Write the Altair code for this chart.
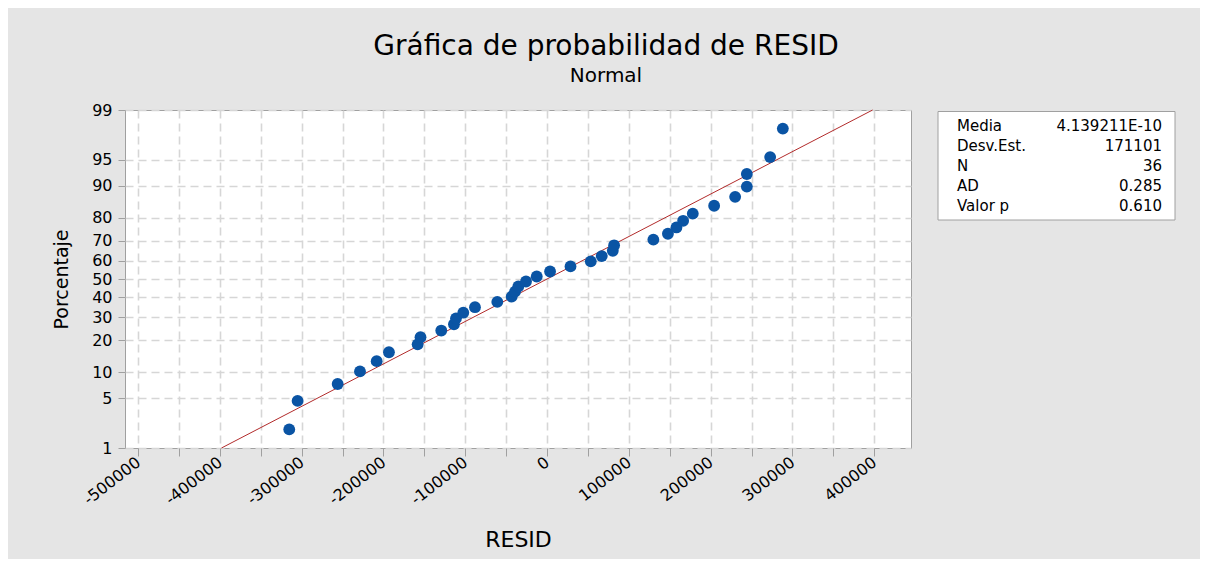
import statistics
import altair as alt
import pandas as pd

# ---- data ----
resid = [-315200, -305000, -256000, -228700, -208300, -193300, -158200, -154700,
         -129300, -113800, -111300, -102400, -88100, -60800, -43200, -39100,
         -35100, -25700, -12600, 3700, 28700, 53500, 66900, 80400, 82000,
         130000, 147800, 158200, 166400, 178200, 204300, 230000, 244300,
         244300, 272800, 288300]
percent = [1.92, 4.67, 7.42, 10.16, 12.91, 15.66, 18.41, 21.15, 23.90, 26.65,
           29.40, 32.14, 34.89, 37.64, 40.38, 43.13, 45.88, 48.63, 51.37,
           54.12, 56.87, 59.62, 62.36, 65.11, 67.86, 70.60, 73.35, 76.10,
           78.85, 81.59, 84.34, 87.09, 89.84, 92.58, 95.33, 98.08]
y_ticks_pct = [1, 5, 10, 20, 30, 40, 50, 60, 70, 80, 90, 95, 99]
x_ticks = list(range(-500000, 400001, 50000))

media = 4.139211e-10
desv = 171101
stat_labels = ["Media", "Desv.Est.", "N", "AD", "Valor p"]
stat_values = ["4.139211E-10", "171101", "36", "0.285", "0.610"]

# ---- probability (normal) scale ----
nd = statistics.NormalDist()
z_pts = [nd.inv_cdf(p / 100) for p in percent]
z_ticks = [nd.inv_cdf(p / 100) for p in y_ticks_pct]
z_lo, z_hi = z_ticks[0], z_ticks[-1]

expr = ""
for i in range(len(z_ticks) - 1, -1, -1):
    if i == len(z_ticks) - 1:
        expr = f"'{y_ticks_pct[i]}'"
    else:
        mid = (z_ticks[i] + z_ticks[i + 1]) / 2
        expr = f"datum.value < {mid:.4f} ? '{y_ticks_pct[i]}' : ({expr})"
y_label_expr = expr

pts = pd.DataFrame({"resid": resid, "z": z_pts, "pct": percent})
fit = pd.DataFrame({"resid": [media + z_lo * desv, media + z_hi * desv],
                    "z": [z_lo, z_hi]})
stats = pd.DataFrame({"label": stat_labels, "value": stat_values})

FONT = "DejaVu Sans"

xscale = alt.Scale(domain=[-516000, 445000], nice=False, zero=False)
yscale = alt.Scale(domain=[z_lo, z_hi], nice=False, zero=False)

xaxis = alt.Axis(values=x_ticks, tickCount=40, title="RESID",
                 labelExpr="datum.value % 100000 == 0 ? '' + datum.value : ''",
                 labelAngle=-38, labelAlign="right", labelBaseline="middle",
                 labelOverlap=False, labelFlush=False, labelFontSize=16,
                 labelFont=FONT, labelColor="black", labelPadding=4,
                 tickSize=8, tickColor="#a0a0a0", domain=False,
                 grid=True, gridColor="#d6d6d6", gridDash=[8, 5], gridWidth=1.6,
                 titleFontSize=22, titleFont=FONT, titleFontWeight="normal",
                 titleColor="black", titlePadding=22)
yaxis = alt.Axis(values=z_ticks, tickCount=40, title="Porcentaje",
                 labelExpr=y_label_expr,
                 labelOverlap=False, labelFontSize=16, labelFont=FONT,
                 labelColor="black", labelPadding=6, tickSize=7,
                 tickColor="#a0a0a0", domain=False,
                 grid=True, gridColor="#d6d6d6", gridDash=[8, 5], gridWidth=1.6,
                 titleFontSize=19, titleFont=FONT, titleFontWeight="normal",
                 titleColor="black", titlePadding=20)

line = alt.Chart(fit).mark_line(color="#b22b2b", strokeWidth=1).encode(
    x=alt.X("resid:Q", scale=xscale, axis=xaxis),
    y=alt.Y("z:Q", scale=yscale, axis=yaxis),
)
points = alt.Chart(pts).mark_circle(color="#0a54a4", size=140, opacity=1).encode(
    x=alt.X("resid:Q", scale=xscale),
    y=alt.Y("z:Q", scale=yscale),
)

box = alt.Chart(pd.DataFrame({"k": [0]})).mark_rect(
    fill="white", stroke="#a0a0a0", strokeWidth=1
).encode(x=alt.value(813), x2=alt.value(1050), y=alt.value(1.5), y2=alt.value(110))

row_scale = alt.Scale(type="point", domain=stat_labels, range=[16, 95.5], padding=0)
stat_lab = alt.Chart(stats).mark_text(
    align="left", baseline="middle", font=FONT, fontSize=15, color="black"
).encode(x=alt.value(832), y=alt.Y("label:N", scale=row_scale, axis=None),
         text="label:N")
stat_val = alt.Chart(stats).mark_text(
    align="right", baseline="middle", font=FONT, fontSize=15, color="black"
).encode(x=alt.value(1037), y=alt.Y("label:N", scale=row_scale, axis=None),
         text="value:N")

main = alt.layer(line, points)
stats_layer = alt.layer(box, stat_lab, stat_val)

chart = alt.layer(main, stats_layer).resolve_scale(y="independent").properties(
    width=786, height=338,
    title=alt.Title("Gráfica de probabilidad de RESID", subtitle="Normal",
                    anchor="middle", frame="group", dx=88, offset=16,
                    font=FONT, fontSize=28, fontWeight="normal", color="black",
                    subtitleFont=FONT, subtitleFontSize=20, subtitleColor="black",
                    subtitlePadding=5),
    background="#e5e5e5",
    padding={"left": 117, "top": 102, "right": 289, "bottom": 111},
    autosize=alt.AutoSizeParams(type="none"),
).configure_view(fill="white", stroke="#a0a0a0", strokeWidth=1)

chart.save("out.html", embed_options={"renderer": "svg", "actions": False})
